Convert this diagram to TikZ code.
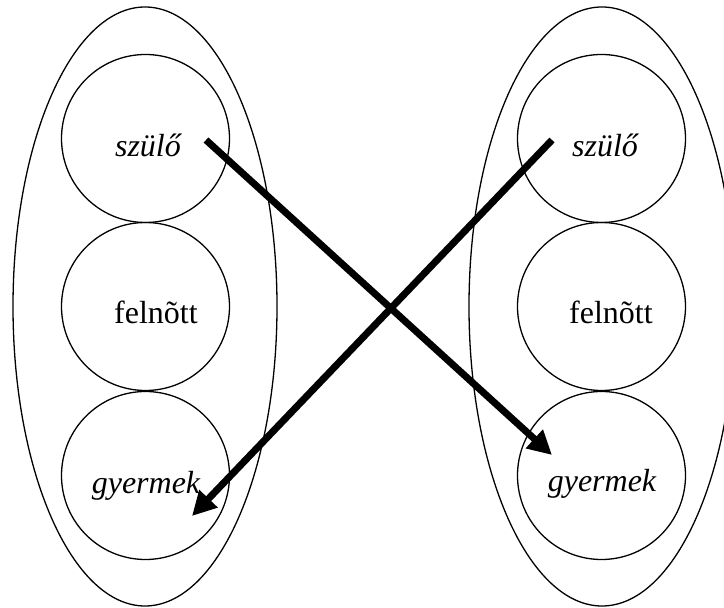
\documentclass[tikz,border=0pt]{standalone}
\usepackage{fontspec}
\setmainfont{Liberation Serif}
\usetikzlibrary{arrows.meta}
\begin{document}
\begin{tikzpicture}[x=1pt,y=1pt,
  group/.style={draw,line width=1.3pt,ellipse},
  role/.style={draw,line width=1.3pt,circle,minimum size=168pt,inner sep=0pt},
  lbl/.style={anchor=base,inner sep=0pt,font=\fontsize{32}{38}\selectfont},
  bigarrow/.style={line width=7pt,-{Triangle[length=24pt,width=24pt]}}]
\useasboundingbox (0,0) rectangle (724,608);
\draw[line width=1.3pt] (145,301.5) ellipse [x radius=132, y radius=299.5];
\draw[line width=1.3pt] (602,301.5) ellipse [x radius=133, y radius=299.5];
\node[role] (ls) at (145.5,469.5) {};
\node[role] (la) at (145.5,301.5) {};
\node[role] (lc) at (145.5,132.5) {};
\node[role] (rs) at (601.5,469.5) {};
\node[role] (ra) at (601.5,301.5) {};
\node[role] (rc) at (601.5,132.5) {};
\node[lbl] (tls) at (148,451) {\itshape szülő};
\node[lbl] (tla) at (156,284) {felnõtt};
\node[lbl] (tlc) at (146,114) {\itshape gyermek};
\node[lbl] (trs) at (605,451) {\itshape szülő};
\node[lbl] (tra) at (611,284) {felnõtt};
\node[lbl] (trc) at (602,116) {\itshape gyermek};
\coordinate (p1) at (206,468);
\coordinate (q1) at (552,153);
\coordinate (p2) at (552,468);
\coordinate (q2) at (192,92);
\draw[bigarrow] (p1) -- (q1);
\draw[bigarrow] (p2) -- (q2);
\end{tikzpicture}
\end{document}
